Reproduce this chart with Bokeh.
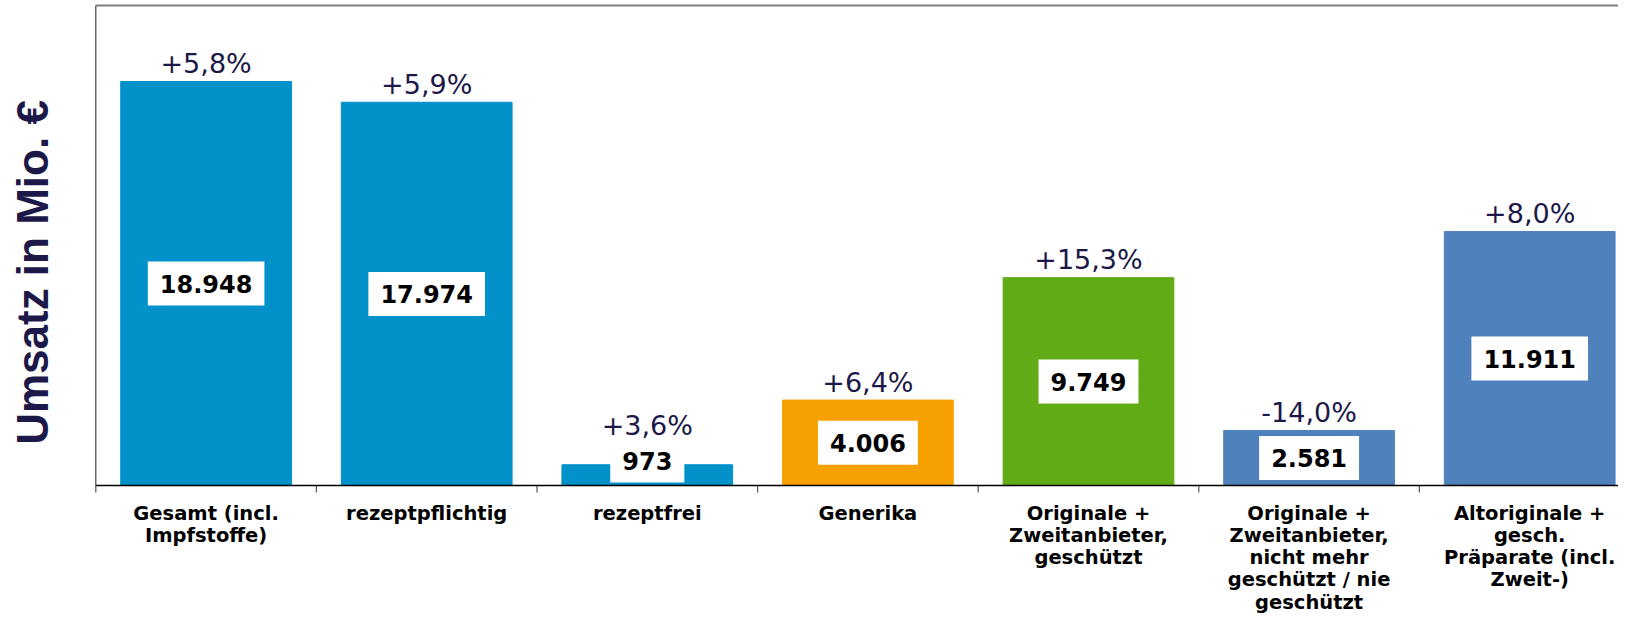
import math
from bokeh.plotting import figure
from bokeh.models import ColumnDataSource
from bokeh.core.properties import value
from bokeh.embed import file_html
from bokeh.resources import INLINE

categories = [
    "Gesamt (incl.\nImpfstoffe)",
    "rezeptpflichtig",
    "rezeptfrei",
    "Generika",
    "Originale +\nZweitanbieter,\ngeschützt",
    "Originale +\nZweitanbieter,\nnicht mehr\ngeschützt / nie\ngeschützt",
    "Altoriginale +\ngesch.\nPräparate (incl.\nZweit-)",
]
umsatz = [18948, 17974, 973, 4006, 9749, 2581, 11911]
changes = ["+5,8%", "+5,9%", "+3,6%", "+6,4%", "+15,3%", "-14,0%", "+8,0%"]
colors = ["#0391C9", "#0391C9", "#0391C9", "#F7A100", "#61AC16", "#4F81BD", "#4F81BD"]
y_title = "Umsatz in Mio. €"

# layout constants (pixels -> data units)
W, H = 1618, 620
LEFT, BASE = 95.3, 485       # frame left / baseline in pixels
PX_X = 220.6                 # pixels per category
PX_Y = 404 / 18948           # pixels per value unit
Y_END = BASE / PX_Y
Y_START = -(H - BASE) / PX_Y
X_START = -0.5 - LEFT / PX_X
X_END = -0.5 + (W - LEFT) / PX_X
LABEL_MIN = 1172
NAVY = "#1C1848"

n = len(categories)
xs = list(range(n))
label_y = [max(v / 2, LABEL_MIN) for v in umsatz]
pct_y = [max(v, ly + 800) + 18 / PX_Y for v, ly in zip(umsatz, label_y)]
value_text = [f"{v:,}".replace(",", ".") for v in umsatz]

src = ColumnDataSource(dict(x=xs, top=umsatz, color=colors, ly=label_y, py=pct_y,
                            vt=value_text, pt=changes, cat=categories,
                            cy=[-16 / PX_Y] * n))

p = figure(width=W, height=H, x_range=(X_START, X_END), y_range=(Y_START, Y_END),
           output_backend="svg", toolbar_location=None)
p.min_border_left = 0
p.min_border_right = 0
p.min_border_top = 0
p.min_border_bottom = 0
p.outline_line_color = None
p.grid.visible = False
p.axis.visible = False

p.vbar(x="x", top="top", width=0.774, bottom=0, color="color", source=src)

# value boxes
p.text(x="x", y="ly", text="vt", source=src, text_align="center", text_baseline="middle",
       text_font=value("DejaVu Sans"), text_font_style="bold", text_font_size="24px",
       text_color="black", background_fill_color="white", padding=(12, 13))

# change labels
p.text(x="x", y="py", text="pt", source=src, text_align="center", text_baseline="alphabetic",
       text_font=value("DejaVu Sans"), text_font_size="27px", text_color=NAVY)

# frame: left line, top line, base line, boundary ticks
top_line = Y_END - 5 / PX_Y
bounds = [i - 0.5 for i in range(n + 1)]
p.segment(x0=[-0.5], y0=[0], x1=[-0.5], y1=[top_line], line_color="#404040", line_width=1.2)
p.segment(x0=[-0.5], y0=[top_line], x1=[X_END], y1=[top_line],
          line_color="#7F7F7F", line_width=2)
p.segment(x0=bounds, y0=[0] * len(bounds), x1=bounds, y1=[-7 / PX_Y] * len(bounds),
          line_color="#555555", line_width=1.2)
p.segment(x0=[-0.5], y0=[0], x1=[X_END], y1=[0], line_color="black", line_width=1.5)

# category labels
p.text(x="x", y="cy", text="cat", source=src, text_align="center", text_baseline="top",
       text_font=value("DejaVu Sans"), text_font_style="bold", text_font_size="19.5px",
       text_color="black", text_line_height=0.97)

# y title
p.text(x=[-0.5 - 63 / PX_X], y=[213 / PX_Y], text=[y_title], angle=math.pi / 2,
       text_align="center", text_baseline="middle",
       text_font=value("Liberation Sans"), text_font_style="bold",
       text_font_size="44px", text_color=NAVY)

open("out.html", "w").write(file_html(p, INLINE))
